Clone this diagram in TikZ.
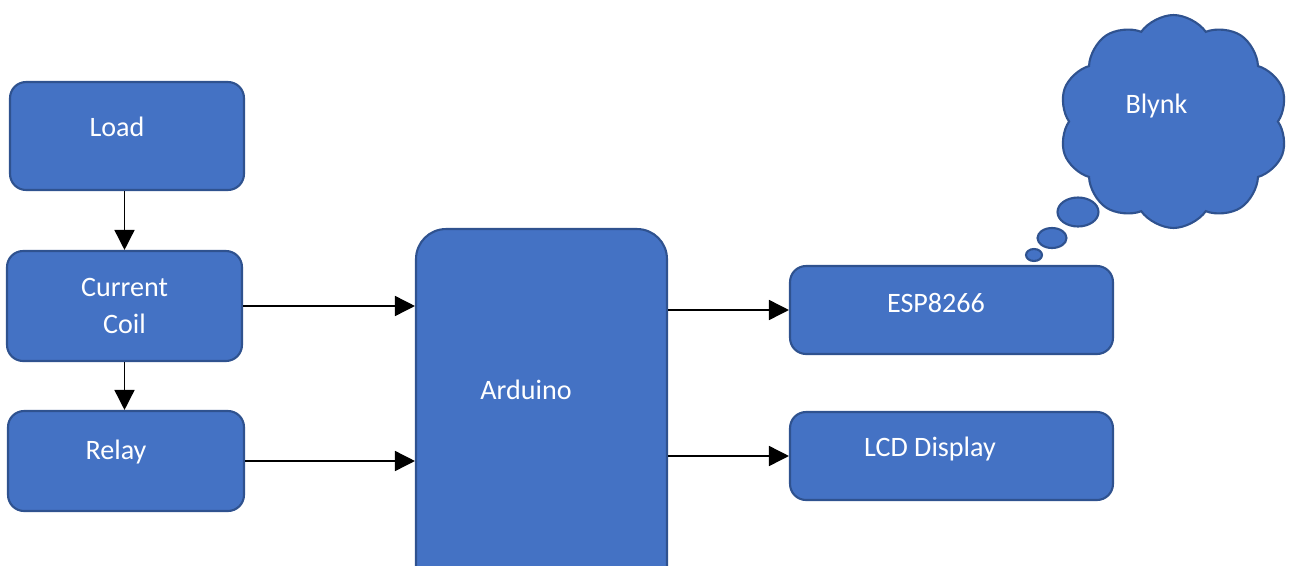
\documentclass[tikz,border=0pt]{standalone}
\usepackage{fontspec}
\setmainfont{Carlito}
\usepackage{tikz}
\usetikzlibrary{positioning, arrows.meta, shapes.geometric, shapes.symbols}
\definecolor{boxfill}{HTML}{4472C4}
\definecolor{boxline}{HTML}{2F528F}
\tikzset{>={Triangle[length=0.4cm,width=0.4cm]}}

\begin{document}
\begin{tikzpicture}
    [x=0.02cm, y=-0.02cm,
     block/.style={draw=boxline, fill=boxfill, line width=1.2pt, rounded corners=0.32cm,
       minimum width=4.7cm, minimum height=2.1cm, inner sep=0pt},
     wide block/.style={block, minimum width=6.46cm, minimum height=1.76cm},
     bubble/.style={ellipse, draw=boxline, fill=boxfill, line width=1.2pt, inner sep=0pt},
     caption/.style={text=white, font=\fontsize{16}{21.5}\selectfont, align=center},
     link/.style={->, line width=0.85pt}]
    \clip (0,0) rectangle (1289,565);

    % left column
    \node[block, minimum width=4.68cm, minimum height=2.16cm] (load) at (127,136) {};
    \node[block, minimum width=4.7cm, minimum height=2.2cm] (coil) at (124.5,306) {};
    \node[block, minimum width=4.72cm, minimum height=2cm] (relay) at (126,461) {};
    \node[caption] (load text) at ([xshift=-0.2cm, yshift=0.18cm]load.center) {Load};
    \node[caption] (coil text) at (coil.center) {Current\\Coil};
    \node[caption] (relay text) at ([xshift=-0.2cm, yshift=0.18cm]relay.center) {Relay};

    % controller
    \node[block, rounded corners=0.6cm, minimum width=5.02cm, minimum height=7.42cm] (arduino) at (541.5,414.5) {};
    \node[caption] (arduino text) at ([xshift=-0.31cm, yshift=0.49cm]arduino.center) {Arduino};

    % right column
    \node[wide block] (esp) at (951.5,310) {};
    \node[wide block] (lcd) at (951.5,456) {};
    \node[caption] (esp text) at ([xshift=-0.31cm, yshift=0.14cm]esp.center) {ESP8266};
    \node[caption] (lcd text) at ([xshift=-0.43cm, yshift=0.14cm]lcd.center) {LCD Display};

    % cloud
    \node[cloud, cloud puffs=10, cloud puff arc=110, aspect=1.05, draw=boxline, fill=boxfill, line width=1.2pt,
      minimum width=4.58cm, minimum height=4.26cm, inner sep=0pt] (blynk) at (1173.5,121.5) {};
    \node[caption] (blynk text) at ([xshift=-0.34cm, yshift=0.3cm]blynk.center) {Blynk};
    \node[bubble, minimum width=0.82cm, minimum height=0.58cm] (bubble a) at (1078,212) {};
    \node[bubble, minimum width=0.58cm, minimum height=0.4cm] (bubble b) at (1052,238) {};
    \node[bubble, minimum width=0.32cm, minimum height=0.24cm] (bubble c) at (1034,255) {};

    \draw[link] (load.south -| coil.north) -- (coil.north);
    \draw[link] (coil.south) -- (coil.south |- relay.north);
    \draw[link] (coil.east) -- (coil.east -| arduino.west);
    \draw[link] (relay.east) -- (relay.east -| arduino.west);
    \draw[link] (esp.west -| arduino.east) -- (esp.west);
    \draw[link] (lcd.west -| arduino.east) -- (lcd.west);
\end{tikzpicture}
\end{document}
